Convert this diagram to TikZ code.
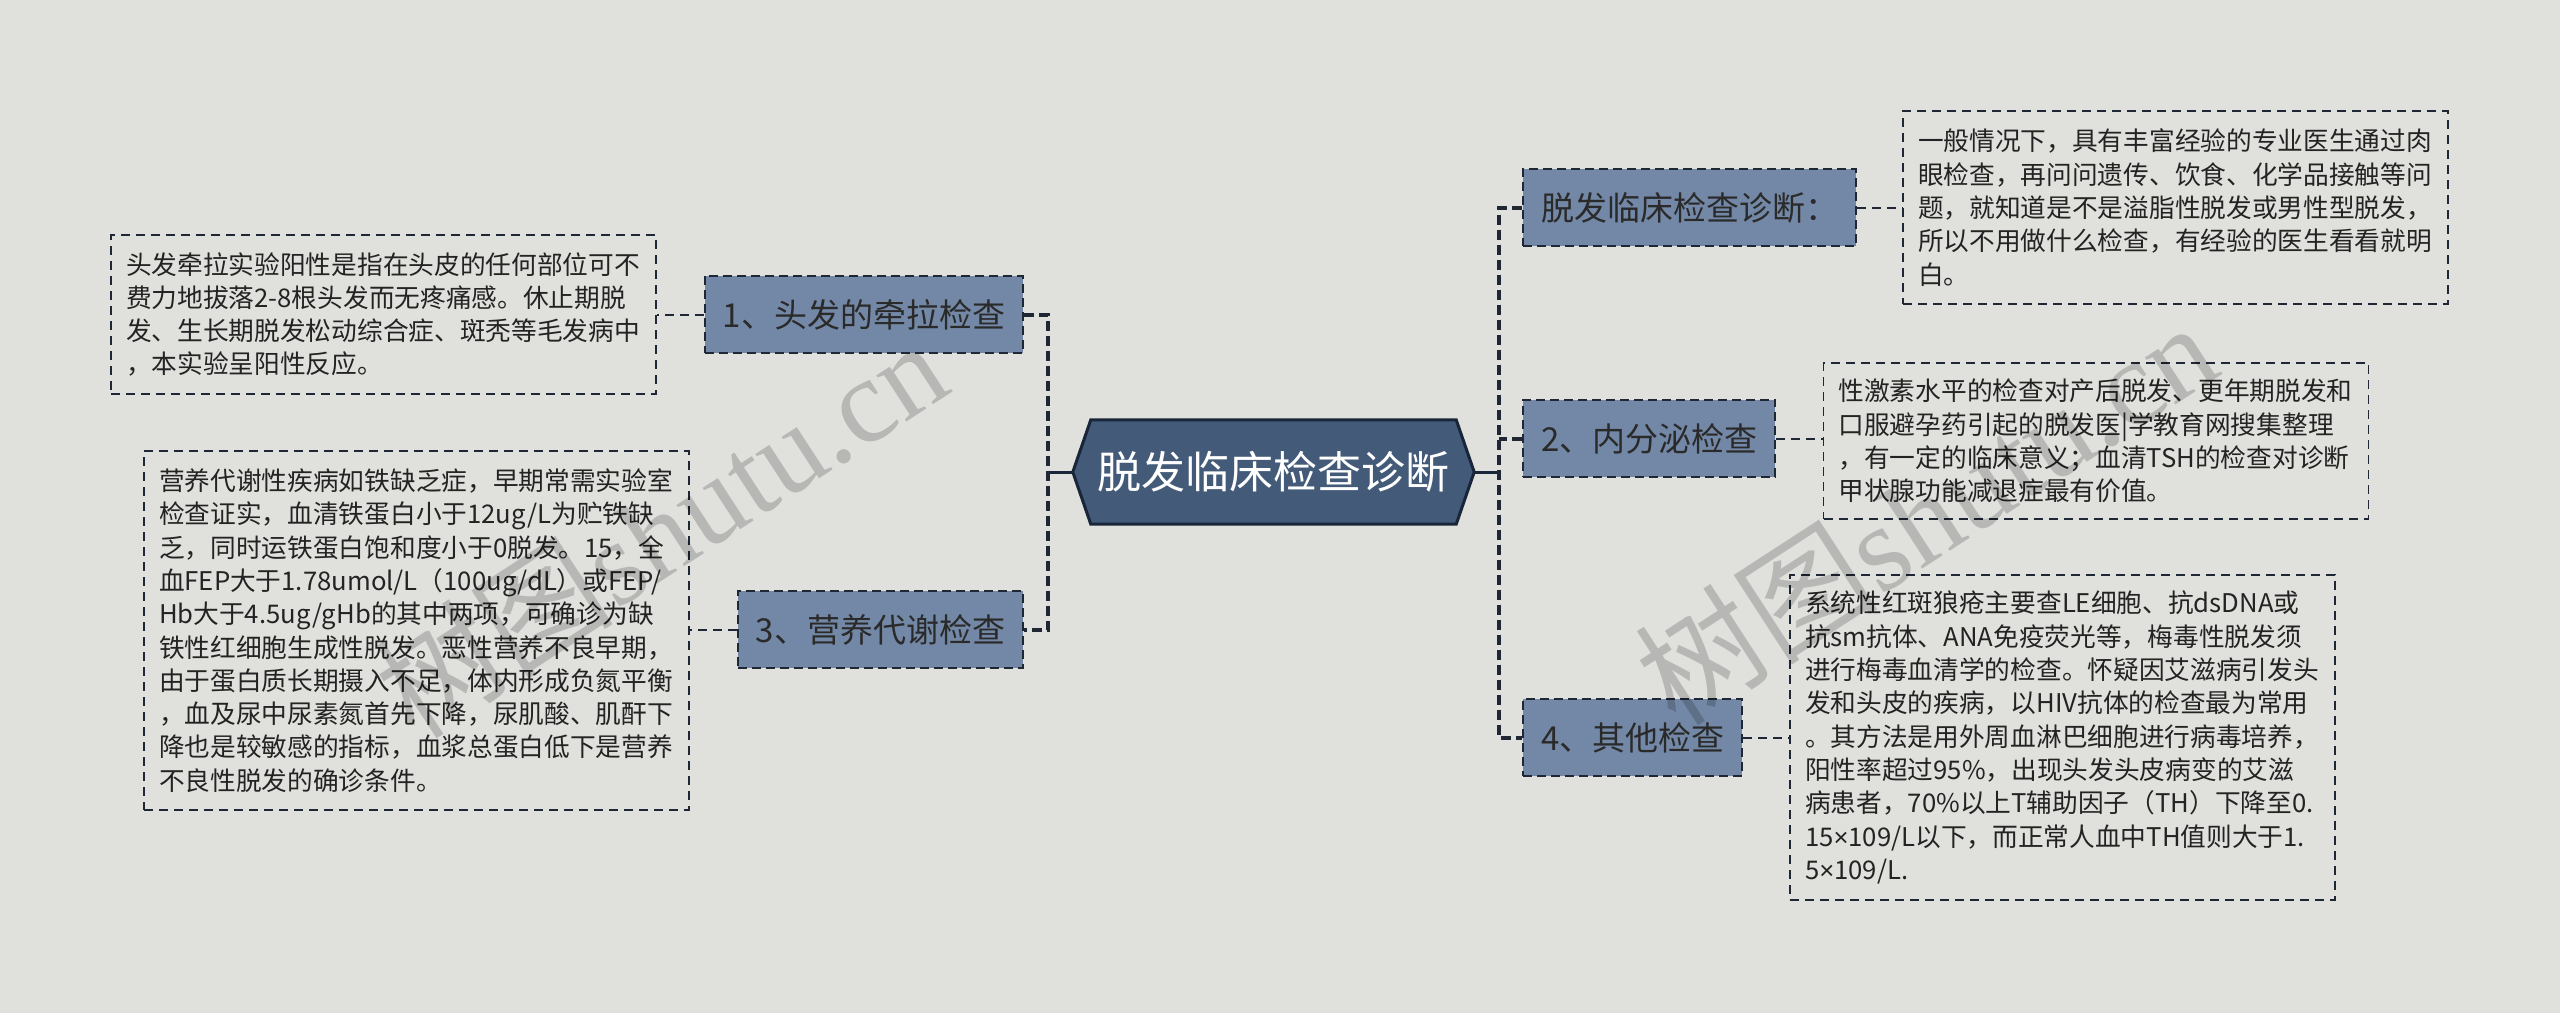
\documentclass[tikz,border=0pt]{standalone}
\usepackage{fontspec}
\setmainfont{Noto Sans CJK SC}
\newfontfamily\wmserif{Liberation Serif}
\newfontfamily\wmcjk{Noto Sans CJK SC}
\newfontfamily\narrowsans{Liberation Sans}
\newcommand{\tms}{{\narrowsans ×}}
\usetikzlibrary{backgrounds}
\definecolor{bgc}{HTML}{E0E1DD}
\definecolor{linec}{HTML}{1E2733}
\definecolor{nodefill}{HTML}{7388A6}
\definecolor{ntext}{HTML}{2A2A2A}
\definecolor{txt}{HTML}{232323}
\definecolor{hexfill}{HTML}{435A79}
\definecolor{hexline}{HTML}{19263A}
\begin{document}
\begin{tikzpicture}[x=1pt,y=-1pt,
  textbox/.style={draw=linec, line width=1.7pt, dash pattern=on 9pt off 6pt,
    text=txt, font=\fontsize{25.7}{33.3}\selectfont, text width=515pt,
    align=left, inner xsep=15pt, inner ysep=0pt},
  topic/.style={draw=linec, line width=2pt, dash pattern=on 9pt off 5pt,
    fill=nodefill, text=ntext, font=\fontsize{33}{40}\selectfont,
    inner xsep=18pt, inner ysep=0pt, minimum height=77pt},
  thinlink/.style={draw=linec, line width=2pt, dash pattern=on 9pt off 6pt},
  spinelink/.style={draw=linec, line width=4pt, dash pattern=on 10pt off 5pt},
  mainlink/.style={draw=hexline, line width=3pt},
  centertext/.style={text=white, font=\fontsize{44}{50}\selectfont,
    minimum width=401pt, minimum height=104pt, inner sep=0pt},
  watermark/.style={text=black, opacity=0.18, rotate=33}
]
\useasboundingbox (0,0) rectangle (2560,1013);

% center
\node[centertext] (c) at (1273.5,472) {脱发临床检查诊断};
\begin{scope}[on background layer]
\fill[bgc] (0,0) rectangle (2560,1013);
\filldraw[fill=hexfill, draw=hexline, line width=3pt, line join=miter]
  (c.west) -- ([xshift=18pt]c.north west) -- ([xshift=-18pt]c.north east)
  -- (c.east) -- ([xshift=-18pt]c.south east) -- ([xshift=18pt]c.south west) -- cycle;
\end{scope}

% left topics
\node[topic, anchor=east] (n1) at (1024,314.5) {1、头发的牵拉检查};
\node[topic, anchor=east] (n3) at (1024,629.5) {3、营养代谢检查};

% right topics
\node[topic, anchor=west] (n0) at (1522,207.5) {脱发临床检查诊断：};
\node[topic, anchor=west] (n2) at (1522,438.5) {2、内分泌检查};
\node[topic, anchor=west] (n4) at (1522,737.5) {4、其他检查};

% left text boxes
\node[textbox, minimum height=159pt] (b1) at (383.5,314.5) {头发牵拉实验阳性是指在头皮的任何部位可不\\
费力地拔落2-8根头发而无疼痛感。休止期脱\\
发、生长期脱发松动综合症、斑秃等毛发病中\\
，本实验呈阳性反应。};

\node[textbox, minimum height=359pt] (b3) at (416.5,630.5) {营养代谢性疾病如铁缺乏症，早期常需实验室\\
检查证实，血清铁蛋白小于12ug/L为贮铁缺\\
乏，同时运铁蛋白饱和度小于0脱发。15，全\\
血FEP大于1.78umol/L（100ug/dL）或FEP/\\
Hb大于4.5ug/gHb的其中两项，可确诊为缺\\
铁性红细胞生成性脱发。恶性营养不良早期，\\
由于蛋白质长期摄入不足，体内形成负氮平衡\\
，血及尿中尿素氮首先下降，尿肌酸、肌酐下\\
降也是较敏感的指标，血浆总蛋白低下是营养\\
不良性脱发的确诊条件。};

% right text boxes
\node[textbox, minimum height=193pt] (b0) at (2175.5,207.5) {一般情况下，具有丰富经验的专业医生通过肉\\
眼检查，再问问遗传、饮食、化学品接触等问\\
题，就知道是不是溢脂性脱发或男性型脱发，\\
所以不用做什么检查，有经验的医生看看就明\\
白。};

\node[textbox, minimum height=156pt] (b2) at (2096,441) {性激素水平的检查对产后脱发、更年期脱发和\\
口服避孕药引起的脱发医|学教育网搜集整理\\
，有一定的临床意义；血清TSH的检查对诊断\\
甲状腺功能减退症最有价值。};

\node[textbox, minimum height=325pt] (b4) at (2062.5,737.5) {系统性红斑狼疮主要查LE细胞、抗dsDNA或\\
抗sm抗体、ANA免疫荧光等，梅毒性脱发须\\
进行梅毒血清学的检查。怀疑因艾滋病引发头\\
发和头皮的疾病，以HIV抗体的检查最为常用\\
。其方法是用外周血淋巴细胞进行病毒培养，\\
阳性率超过95\%，出现头发头皮病变的艾滋\\
病患者，70\%以上T辅助因子（TH）下降至0.\\
15\tms109/L以下，而正常人血中TH值则大于1.\\
5\tms109/L.};

% spines
\coordinate (ls) at (1048,472);
\coordinate (rs) at (1499,472);
\draw[mainlink] (c.west) -- (c.west -| ls);
\draw[mainlink] (c.east) -- (c.east -| rs);
\draw[spinelink] (n1.east) -- (n1.east -| ls) -- (n3.east -| ls) -- (n3.east);
\draw[spinelink] (n0.west) -- (n0.west -| rs) -- (n4.west -| rs) -- (n4.west);
\draw[spinelink] (n2.west) -- (n2.west -| rs);

% topic to text links
\draw[thinlink] (n1.west) -- (n1.west -| b1.east);
\draw[thinlink] (n3.west) -- (n3.west -| b3.east);
\draw[thinlink] (n0.east) -- (n0.east -| b0.west);
\draw[thinlink] (n2.east) -- (n2.east -| b2.west);
\draw[thinlink] (n4.east) -- (n4.east -| b4.west);

% watermarks
\node[watermark] (w1) at (660,528) {\fontsize{120}{122}\selectfont\wmcjk 树图\wmserif shutu.cn};
\node[watermark] (w2) at (1925,512) {\fontsize{122}{124}\selectfont\wmcjk 树图\wmserif shutu.cn};
\end{tikzpicture}
\end{document}
